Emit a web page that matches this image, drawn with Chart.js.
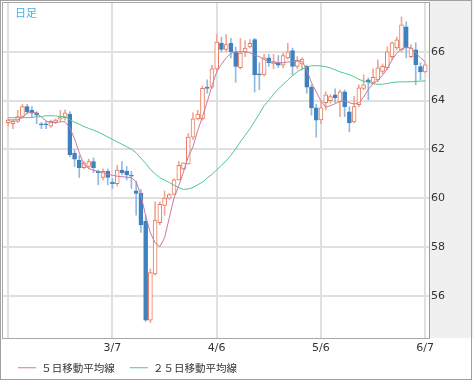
<!DOCTYPE html>
<html>
<head>
<meta charset="utf-8">
<style>
html,body{margin:0;padding:0;background:#fff;}
canvas{display:block;}
</style>
<script src="https://cdn.jsdelivr.net/npm/chart.js@4/dist/chart.umd.min.js"></script>
</head>
<body>
<canvas id="c" width="473" height="382"></canvas>
<script>
// ---- data (daily candles) ----
const opens  = [63.10,63.05,63.15,63.35,63.75,63.60,63.50,63.05,63.05,62.95,63.10,63.25,63.30,63.45,61.85,61.55,61.25,61.30,61.50,61.10,60.85,61.10,60.65,60.60,61.15,61.10,60.95,60.30,60.20,59.05,55.00,56.90,59.00,59.70,60.00,60.15,60.75,61.20,61.40,62.50,63.25,63.25,64.55,64.55,65.30,66.35,66.10,66.35,66.00,65.35,66.00,66.20,66.50,65.10,65.05,65.75,65.50,65.55,65.45,65.75,66.05,65.40,65.50,65.40,64.55,63.70,63.21,63.91,64.00,64.24,63.95,64.36,63.54,63.13,63.83,64.50,64.85,64.75,64.85,65.20,65.34,65.80,66.16,66.08,67.02,65.80,66.08,65.39,65.18];
const highs  = [63.25,63.20,63.60,63.85,63.85,63.75,63.55,63.10,63.15,63.20,63.25,63.60,63.62,63.55,62.00,61.75,61.50,61.60,61.65,61.15,61.20,61.20,60.80,61.35,61.50,61.30,61.10,60.70,60.35,59.30,57.10,59.85,59.85,60.30,60.20,60.80,61.50,61.45,62.65,63.50,63.60,64.60,64.85,65.45,66.70,66.60,66.70,66.55,66.20,66.55,66.45,66.50,66.55,65.55,65.90,65.90,65.90,65.85,65.95,66.35,66.15,65.80,65.75,65.45,64.65,63.85,64.00,64.36,64.25,64.48,64.44,64.44,63.75,64.16,64.65,65.06,64.93,65.30,65.67,65.50,66.20,66.41,66.61,67.43,67.23,66.30,66.37,65.55,65.55];
const lows   = [62.95,62.85,63.10,63.30,63.45,63.30,63.05,62.85,62.85,62.90,63.05,63.15,63.20,61.70,61.30,60.85,61.20,61.20,61.05,60.55,60.75,60.55,60.40,60.50,60.95,60.75,60.40,59.30,58.60,54.95,54.90,56.85,58.90,59.30,59.95,60.15,60.75,61.15,61.40,62.40,63.20,63.20,64.30,64.50,65.20,66.00,66.00,65.75,64.75,65.30,65.80,66.15,64.35,64.45,65.00,65.40,65.30,65.35,65.35,65.70,65.05,65.30,65.25,64.30,63.40,62.50,63.05,63.62,63.90,63.91,63.34,63.34,62.72,63.09,63.75,64.44,64.03,64.70,64.77,65.10,65.26,65.67,66.08,66.00,65.75,65.75,64.65,64.85,65.15];
const closes = [63.20,63.15,63.35,63.75,63.55,63.50,63.40,63.00,63.00,63.15,63.20,63.30,63.50,61.78,61.60,61.25,61.45,61.50,61.25,61.05,61.10,60.85,60.60,61.15,61.05,60.95,60.90,60.20,58.90,55.00,56.95,59.10,59.75,60.00,60.15,60.75,61.35,61.45,62.50,63.25,63.45,64.50,64.50,65.30,66.40,66.10,66.30,66.00,65.40,65.95,66.15,66.35,65.05,65.05,65.75,65.55,65.60,65.45,65.85,66.00,65.40,65.65,65.70,64.55,63.70,63.20,63.70,64.24,64.16,64.11,64.36,63.75,63.09,63.75,64.52,64.65,64.77,64.95,65.34,65.40,66.00,66.37,66.49,67.11,66.16,66.16,65.47,65.18,65.47];
const ma5    = [63.21,63.21,63.21,63.30,63.50,63.50,63.50,63.32,63.17,63.09,63.11,63.13,63.13,62.89,62.43,61.86,61.37,61.22,61.14,61.10,61.04,60.98,60.94,60.90,60.88,60.86,60.84,60.67,60.14,59.28,58.58,58.17,58.01,58.38,59.20,60.02,60.51,61.08,61.70,62.11,62.78,63.34,63.95,64.61,65.18,65.49,65.75,65.94,66.00,66.00,66.00,65.96,65.86,65.80,65.69,65.61,65.57,65.55,65.55,65.58,65.60,65.62,65.61,65.28,64.73,64.36,63.99,63.73,63.79,63.87,63.97,63.99,63.91,63.86,63.91,64.14,64.46,64.69,64.83,65.04,65.32,65.67,65.94,66.12,66.19,66.15,65.96,65.75,65.59];
const ma25   = [63.30,63.30,63.30,63.30,63.30,63.31,63.34,63.34,63.38,63.38,63.37,63.35,63.34,63.22,63.11,63.03,62.94,62.86,62.79,62.71,62.61,62.51,62.41,62.31,62.21,62.11,62.01,61.86,61.64,61.43,61.18,61.00,60.84,60.74,60.64,60.53,60.43,60.36,60.38,60.44,60.55,60.66,60.82,60.98,61.16,61.35,61.53,61.76,62.02,62.31,62.58,62.84,63.15,63.46,63.79,64.01,64.26,64.48,64.65,64.85,65.02,65.18,65.30,65.37,65.43,65.43,65.42,65.39,65.34,65.26,65.18,65.12,65.06,64.98,64.87,64.80,64.75,64.69,64.67,64.67,64.70,64.74,64.76,64.77,64.77,64.77,64.79,64.80,64.81];
const tickIdx    = [0, 22, 44, 66, 88];
const tickLabels = ['', '3/7', '4/6', '5/6', '6/7'];
const yTicks     = [56, 58, 60, 62, 64, 66];
const seriesNames = ['５日移動平均線', '２５日移動平均線'];
const panelTitle = '日足';

// ---- styles ----
const UP_LINE = '#e8785a', UP_WICK = '#f0a892';
const DN_FILL = '#3f80bf', DN_WICK = '#90bade';
const MA5_COL = '#c97ba0', MA25_COL = '#4ec98c';
const GRID_COL = '#e0e0e0';
const FONT = '"DejaVu Sans", sans-serif';
const JFONT = '"Noto Sans CJK JP", sans-serif';

const isUp = i => closes[i] >= opens[i];
const wickData = opens.map((o, i) => ({x: i, y: [lows[i], highs[i]]}));
const bodyData = opens.map((o, i) => ({x: i, y: [Math.min(o, closes[i]), Math.max(o, closes[i])]}));
const ma5Data  = ma5.map((v, i) => ({x: i, y: v}));
const ma25Data = ma25.map((v, i) => ({x: i, y: v}));

const framePlugin = {
  id: 'frame',
  afterLayout(chart) {
    // place the legend row just below the date labels
    if (chart.legend) { chart.legend.top = 347.5; }
  },
  beforeDraw(chart) {
    const {ctx, chartArea: a, width, height} = chart;
    ctx.save();
    ctx.fillStyle = '#ffffff';
    ctx.fillRect(0, 0, width, height);
    ctx.fillStyle = '#f0f0f0';
    ctx.fillRect(a.right, 0, width - a.right, a.bottom);
    ctx.restore();
  },
  afterDraw(chart) {
    const {ctx, chartArea: a, width, height} = chart;
    ctx.save();
    ctx.strokeStyle = '#a8a8a8';
    ctx.lineWidth = 1;
    ctx.strokeRect(a.left - 0.5, a.top - 0.5, a.right - a.left + 1, a.bottom - a.top + 1);
    ctx.strokeStyle = '#9a9a9a';
    ctx.beginPath();
    ctx.moveTo(a.right + 0.5, a.top); ctx.lineTo(a.right + 0.5, a.bottom);
    ctx.stroke();
    ctx.strokeStyle = '#a0a0a0';
    ctx.strokeRect(0.5, 0.5, width - 2, height - 3);
    ctx.fillStyle = '#44b2e2';
    ctx.font = '11px ' + JFONT;
    ctx.textBaseline = 'middle';
    ctx.fillText(panelTitle, 15, 13);
    ctx.restore();
  }
};

new Chart(document.getElementById('c'), {
  type: 'bar',
  data: {
    datasets: [
      { type: 'line', label: seriesNames[0], data: ma5Data, borderColor: MA5_COL, backgroundColor: MA5_COL,
        borderWidth: 1, pointRadius: 0, tension: 0, fill: false, order: 0 },
      { type: 'line', label: seriesNames[1], data: ma25Data, borderColor: MA25_COL, backgroundColor: MA25_COL,
        borderWidth: 1, pointRadius: 0, tension: 0, fill: false, order: 1 },
      { label: 'body', data: bodyData, grouped: false, barThickness: 4, borderWidth: 1, borderSkipped: false,
        backgroundColor: c => isUp(c.dataIndex) ? '#ffffff' : DN_FILL,
        borderColor: c => isUp(c.dataIndex) ? UP_LINE : DN_FILL, order: 2 },
      { label: 'wick', data: wickData, grouped: false, barThickness: 1, borderWidth: 0,
        backgroundColor: c => isUp(c.dataIndex) ? UP_WICK : DN_WICK, order: 3 }
    ]
  },
  options: {
    responsive: false,
    animation: false,
    devicePixelRatio: 1,
    layout: { padding: { top: 3, left: 3, right: 0, bottom: 0 } },
    scales: {
      x: {
        type: 'linear', min: -1.1, max: 88.8, offset: false,
        afterBuildTicks: s => { s.ticks = tickIdx.map(v => ({value: v})); },
        afterFit: s => { s.height = 15; s.paddingLeft = 0; s.paddingRight = 0; },
        ticks: { callback: v => tickLabels[tickIdx.indexOf(v)], color: '#333', font: {size: 11, family: FONT},
                 padding: 4, maxRotation: 0, autoSkip: false },
        grid: { color: GRID_COL, lineWidth: 2, drawTicks: false, offset: false },
        border: { display: false }
      },
      y: {
        position: 'right', min: 54.27, max: 68.0,
        afterBuildTicks: s => { s.ticks = yTicks.map(v => ({value: v})); },
        afterFit: s => { s.width = 44; s.paddingTop = 0; s.paddingBottom = 0; },
        ticks: { color: '#333', font: {size: 11, family: FONT}, padding: 2 },
        grid: { color: GRID_COL, lineWidth: 2, drawTicks: false },
        border: { display: false }
      }
    },
    plugins: {
      tooltip: { enabled: false },
      legend: {
        position: 'bottom', align: 'start', maxHeight: 29,
        labels: {
          filter: item => item.datasetIndex < 2,
          boxWidth: 18, boxHeight: 1, padding: 15, color: '#333',
          font: { size: 10.5, family: JFONT },
          generateLabels: chart => Chart.defaults.plugins.legend.labels.generateLabels(chart)
            .map(l => Object.assign(l, { lineWidth: 0, fillStyle: l.strokeStyle }))
        }
      }
    }
  },
  plugins: [framePlugin]
});
</script>
</body>
</html>
